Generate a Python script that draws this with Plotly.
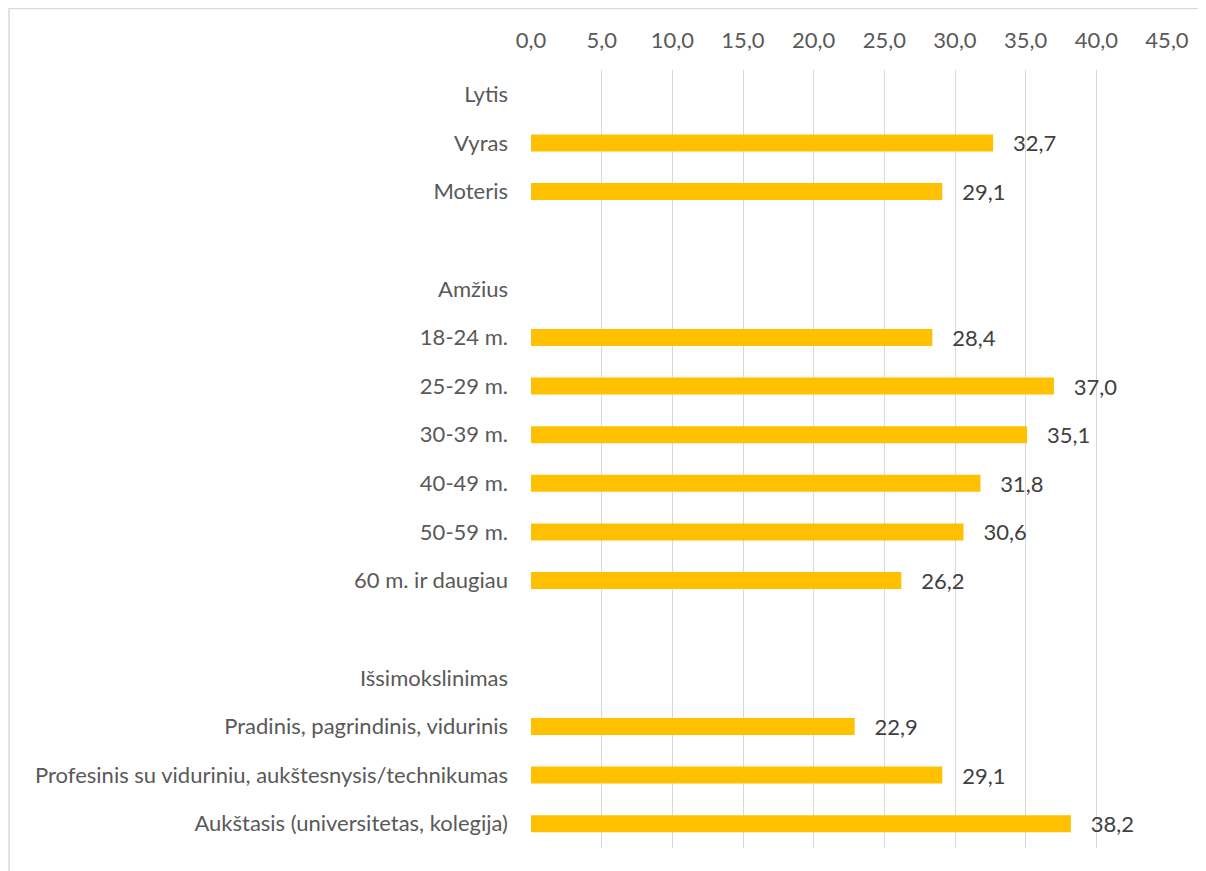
import plotly.graph_objects as go

categories = ["Lytis", "Vyras", "Moteris", " ",
              "Amžius", "18-24 m.", "25-29 m.", "30-39 m.", "40-49 m.", "50-59 m.", "60 m. ir daugiau", "  ",
              "Išsimokslinimas", "Pradinis, pagrindinis, vidurinis",
              "Profesinis su viduriniu, aukštesnysis/technikumas",
              "Aukštasis (universitetas, kolegija)"]
values = [None, 32.7, 29.1, None,
          None, 28.4, 37.0, 35.1, 31.8, 30.6, 26.2, None,
          None, 22.9, 29.1, 38.2]
x_ticks = [0, 5, 10, 15, 20, 25, 30, 35, 40, 45]

FONT = "Lato"
FS = 22

# body margin of the page is 8px; compensate
OFF = 8
W, H = 1206 - OFF, 871 - OFF
L, R, T, B = 531 - OFF, 39, 70 - OFF, 23
plot_w = W - L - R
plot_h = H - T - B

fig = go.Figure(go.Bar(
    y=categories, x=values, orientation="h",
    marker=dict(color="#FFC000", line=dict(width=0)),
    width=0.35,
    texttemplate="\u00a0\u00a0\u00a0%{x:.1f}", textposition="outside",
    constraintext="none",
    textfont=dict(family=FONT, size=FS, color="#404040"),
    cliponaxis=False,
))

fig.update_layout(
    width=W, height=H,
    margin=dict(l=L, r=R, t=T, b=B),
    paper_bgcolor="white", plot_bgcolor="white",
    separators=", ",
    showlegend=False,
    font=dict(family=FONT, size=FS, color="#595959"),
    xaxis=dict(side="top", range=[0, 45], tickvals=x_ticks, tickformat=".1f",
               showgrid=True, gridcolor="#D9D9D9", gridwidth=1.3,
               zeroline=False, showline=False, ticks="", ticklabelstandoff=17,
               tickfont=dict(family=FONT, size=FS, color="#595959")),
    yaxis=dict(autorange="reversed", showgrid=False, zeroline=False, showline=False,
               ticks="", ticklabelstandoff=22,
               tickfont=dict(family=FONT, size=FS, color="#595959")),
    shapes=[dict(type="rect", xref="paper", yref="paper",
                 x0=(1 - L) / plot_w, x1=1.2, y0=-0.2, y1=1 + (T - 0.5) / plot_h,
                 line=dict(color="#D9D9D9", width=1.5), layer="below")],
)

fig.write_html("out.html")
